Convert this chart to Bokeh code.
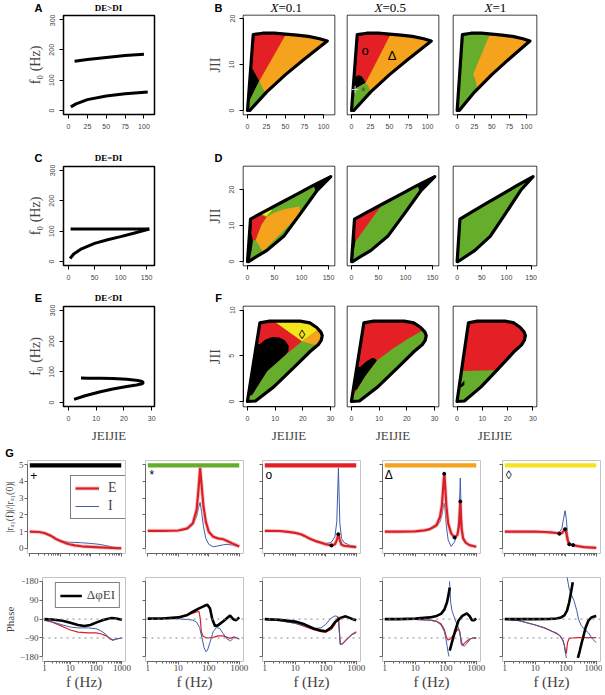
from bokeh.plotting import figure
from bokeh.models import Range1d, FixedTicker, Legend, LegendItem, PrintfTickFormatter, Span
from bokeh.layouts import column, row
from bokeh.embed import file_html
from bokeh.resources import INLINE
from bokeh.core.properties import value

SERIF = "Liberation Serif"
SANS = "Liberation Sans"
RED = "#e41f26"
ORANGE = "#f5a21d"
GREEN = "#66ad2b"
YELLOW = "#f4e41c"
BLACK = "#000000"
LINE_RED = "#d92027"
GLOW_RED = "#f29a9a"
LINE_BLUE = "#3f5ea8"

# ---------------- data: panels A, C, E ----------------
A_LOW_X = [3, 10, 25, 50, 75, 105]
A_LOW_Y = [12, 22, 36, 48, 55, 61]
A_HIGH_X = [8, 25, 50, 75, 100]
A_HIGH_Y = [162, 168, 175, 181, 185]
C_LOW_X = [3, 10, 25, 50, 75, 100, 125, 155]
C_LOW_Y = [10, 25, 42, 60, 72, 82, 93, 107]
C_HIGH_X = [4, 155]
C_HIGH_Y = [107, 107]
E_CURVE_X = [2, 6, 11.5, 16, 21, 24.5, 26.5, 27, 26.5, 25, 21, 16, 11.5, 7, 4.5]
E_CURVE_Y = [10, 22, 35, 44, 52, 57, 61, 65, 69, 72, 76, 78, 79, 79.5, 80]

# ---------------- data: region outlines ----------------
B_OUT_X = [0, 7.5, 20, 35, 50, 65, 80, 95, 105, 75, 50, 25, 3]
B_OUT_Y = [0, 16.5, 16.8, 16.8, 16.6, 16.4, 16.1, 15.6, 15.1, 11.2, 7.8, 4.0, 0]
D_OUT_X = [0, 5.6, 30, 60, 90, 120, 154, 129, 98, 67, 36, 15, 2]
D_OUT_Y = [0, 11.8, 13.8, 16.2, 18.6, 21.0, 23.6, 19.8, 13.3, 7.0, 3.1, 1.2, 0]
F_OUT_X = [0, 4.5, 8, 14, 19, 22.5, 25, 26.5, 27, 26.6, 25.5, 22.7, 16.7, 9.5, 2.9]
F_OUT_Y = [0, 8.6, 8.8, 8.8, 8.8, 8.6, 8.1, 7.6, 7.2, 6.7, 6.2, 5.5, 3.7, 1.6, 0.05]

# B row regions (X = 0.1, 0.5, 1)
B1_RED_X = [-3, 59, 15.5, 6, -3]
B1_RED_Y = [19, 19, 6.4, 9.3, 9.3]
B1_BLACK_X = [-3, 6, 15.5, 3, -3]
B1_BLACK_Y = [9.3, 9.3, 6.4, 2.2, 1.5]
B1_GREEN_X = [-3, -3, 3, 15.5, 27, 22]
B1_GREEN_Y = [-0.7, 1.5, 2.2, 6.4, 2.5, -0.7]
B2_RED_X = [-3, 59, 18.5, 16.5, 13, 9, 4, -3]
B2_RED_Y = [19, 19, 6.0, 6.8, 7.5, 7.7, 7.3, 6.5]
B2_BLACK_X = [-3, -3, 4, 9, 13, 16.5, 18.5, 10, 4]
B2_BLACK_Y = [4.2, 6.5, 7.3, 7.7, 7.5, 6.8, 6.0, 5.2, 4.6]
B2_GREEN_X = [-3, -3, 4, 10, 18.5, 21.5, 24, 26, 22]
B2_GREEN_Y = [-0.7, 4.2, 4.6, 5.2, 6.0, 5.5, 4.6, 3.5, -0.7]
B3_GREEN_X = [-3, 54, 23, 26, 28, 29, 27, -3]
B3_GREEN_Y = [19, 19, 7.9, 6.8, 5.5, 4.0, -0.7, -0.7]

# D row regions
D1_ORANGE_X = [15, 28, 98, 96, 70, 50, 35, 26, 20]
D1_ORANGE_Y = [6, 2.8, 13.3, 15.3, 14.6, 13.6, 12.3, 10.3, 8]
D1_RED_X = [6, 20, 35, 26, 20, 15, 10, 7]
D1_RED_Y = [12.5, 13.3, 12.3, 10.3, 8, 6, 5.8, 8]
D1_YELLOW_X = [24, 46, 44, 35, 26]
D1_YELLOW_Y = [13.6, 14.8, 14.0, 12.6, 13.2]
D1_BLACK_X = [-3, -3, 8, 7, 10, 8, 5, 4]
D1_BLACK_Y = [-0.9, 14, 14, 8, 5.8, 3.5, 1, -0.9]
D1_TOP_X = [5, 5, 34, 34, 18]
D1_TOP_Y = [12, 14, 16, 14.3, 13.3]
D_TIP_X = [118, 159, 159, 126]
D_TIP_Y = [23, 26, 20, 19.5]
D2_RED_X = [3, 62, 58, 7, 3]
D2_RED_Y = [14, 17.5, 16.1, 5.5, 6]
D2_BLACK_X = [-3, -3, 6, 6.5, 7, 4, 2]
D2_BLACK_Y = [-0.9, 14, 14, 9, 5.5, 2.5, -0.9]

# F row regions
F1_RED_X = [-1, 9.5, 9.5, 19.7, 13.7, 7.1, 1.7, -1]
F1_RED_Y = [10, 10, 8.8, 6.6, 5.1, 3.3, 0.7, 0.7]
F1_YELLOW_X = [9.5, 30, 30, 25.7, 19.7, 9.5]
F1_YELLOW_Y = [10, 10, 8.3, 7.9, 6.6, 8.8]
F1_ORANGE_X = [19.7, 25.7, 30, 30, 24]
F1_ORANGE_Y = [6.6, 7.9, 8.3, 6.3, 6.2]
F1_BLACK_X = [-1, 1.7, 7.1, 13.7, 14.8, 14.9, 13.5, 11.5, 9, 6.5, 4.5, -1]
F1_BLACK_Y = [0.5, 0.7, 3.3, 5.1, 5.5, 6.1, 6.7, 7.0, 7.05, 6.8, 6.3, 6]
F2_GREEN_X = [0, 0, 2, 5, 9.2, 15, 20, 26.4, 30, 30]
F2_GREEN_Y = [-0.4, 0.3, 1.3, 2.8, 4.5, 5.8, 6.8, 7.9, 8.5, -0.4]
F2_BLACK_X = [-1, 2, 5, 9.2, 8.5, 7.4, 5.5, 3.2, -1]
F2_BLACK_Y = [1, 1.3, 2.8, 4.5, 4.7, 4.75, 4.4, 3.8, 3.5]
F3_GREEN_X = [-1, -1, 17, 30]
F3_GREEN_Y = [-0.4, 3.3, 3.45, -0.4]
F3_BLACK_X = [1.2, 2.9, 2.9, 1.4]
F3_BLACK_Y = [1.75, 2.3, 1.8, 1.5]

# ---------------- data: panel G amplitude ----------------
G1_F = [1, 2, 3, 5, 7, 10, 15, 20, 30, 50, 100, 200, 500, 1000]
G1_E = [1.0, 0.98, 0.92, 0.75, 0.58, 0.45, 0.32, 0.25, 0.18, 0.13, 0.10, 0.07, 0.03, 0.01]
G1_I = [1.0, 0.98, 0.92, 0.75, 0.60, 0.48, 0.40, 0.37, 0.36, 0.34, 0.30, 0.24, 0.10, 0.02]
G2_F = [1, 3, 10, 20, 30, 40, 46, 52, 58, 67, 80, 100, 140, 200, 300, 400, 600, 1000]
G2_E = [1.05, 1.05, 1.07, 1.2, 1.5, 2.3, 3.5, 4.8, 3.8, 2.5, 1.6, 1.0, 0.7, 0.6, 0.55, 0.45, 0.3, 0.12]
G2_I = [1.05, 1.05, 1.06, 1.15, 1.4, 1.9, 2.4, 2.75, 2.2, 1.3, 0.6, 0.25, 0.1, 0.15, 0.22, 0.25, 0.2, 0.1]
G3_F = [1, 3, 5, 10, 15, 20, 30, 50, 100, 150, 200, 230, 260, 290, 330, 400, 600, 1000]
G3_E = [1.05, 1.04, 1.0, 0.93, 0.85, 0.75, 0.58, 0.42, 0.25, 0.18, 0.25, 0.5, 0.85, 0.5, 0.22, 0.16, 0.12, 0.08]
G3_I = [1.05, 1.04, 1.0, 0.93, 0.85, 0.76, 0.6, 0.45, 0.3, 0.35, 0.7, 1.6, 4.8, 1.5, 0.6, 0.35, 0.2, 0.12]
G4_F = [1, 3, 10, 20, 30, 50, 65, 75, 85, 90, 95, 105, 120, 150, 195, 240, 270, 290, 300, 310, 330, 370, 450, 600, 1000]
G4_E = [1.0, 1.0, 1.02, 1.08, 1.15, 1.4, 1.9, 2.6, 4.0, 4.45, 3.8, 2.5, 1.5, 0.9, 0.65, 0.8, 1.3, 2.2, 2.8, 2.2, 1.2, 0.6, 0.35, 0.2, 0.1]
G4_I = [1.0, 1.0, 1.02, 1.07, 1.12, 1.3, 1.6, 2.0, 2.6, 2.7, 2.3, 1.3, 0.5, 0.12, 0.4, 0.9, 1.8, 3.3, 4.2, 3.2, 1.6, 0.7, 0.35, 0.2, 0.1]
G5_F = [1, 3, 10, 20, 30, 50, 62, 75, 85, 95, 105, 115, 130, 175, 250, 400, 1000]
G5_E = [1.0, 1.0, 1.0, 0.98, 0.96, 0.92, 0.88, 0.92, 1.05, 1.15, 0.9, 0.5, 0.25, 0.2, 0.14, 0.08, 0.04]
G5_I = [1.0, 1.0, 1.0, 0.98, 0.97, 0.95, 0.98, 1.2, 1.8, 2.25, 1.7, 0.8, 0.3, 0.2, 0.14, 0.08, 0.04]
G3_DOT_F = [155, 257]
G3_DOT_A = [0.18, 0.85]
G4_DOT_F = [89, 195, 300]
G4_DOT_A = [4.45, 0.65, 2.8]
G5_DOT_F = [62, 95, 130, 175]
G5_DOT_A = [0.88, 1.15, 0.25, 0.2]

# ---------------- data: panel G phase ----------------
P1_FE = [1, 2, 5, 10, 20, 50, 100, 150, 250, 350, 450, 600, 1000]
P1_E = [-5, -15, -35, -52, -62, -66, -66, -70, -80, -95, -100, -95, -90]
P1_FI = [1, 2, 5, 10, 20, 50, 100, 150, 200, 300, 450, 600, 1000]
P1_I = [-5, -13, -28, -38, -42, -42, -46, -55, -65, -85, -100, -95, -90]
P1_FD = [1, 2, 5, 10, 20, 35, 60, 100, 200, 400, 600, 1000]
P1_D = [0, -2, -8, -18, -28, -33, -28, -17, -3, 5, 3, -3]

P2_FE = [1, 3, 10, 20, 30, 40, 48, 53, 57, 65, 80, 100, 150, 200, 300, 500, 700, 1000]
P2_E = [2, 3, 8, 18, 28, 34, 36, 0, -60, -82, -88, -90, -86, -80, -80, -92, -85, -95]
P2_FI = [1, 3, 10, 20, 30, 40, 50, 60, 70, 80, 90, 110, 140, 180, 230, 300, 400, 520, 650, 800, 1000]
P2_I = [2, 2, 1, -2, -5, -15, -40, -90, -135, -155, -150, -110, -60, -40, -45, -70, -95, -104, -90, -88, -95]
P2_FD = [1, 3, 10, 20, 30, 50, 70, 90, 110, 130, 160, 200, 300, 500, 650, 800, 1000]
P2_D = [2, 3, 8, 20, 35, 52, 62, 68, 50, 0, -33, -30, -10, 17, -2, -5, 8]

P3_FE = [1, 3, 10, 20, 40, 70, 100, 150, 200, 240, 260, 280, 300, 350, 500, 700, 1000]
P3_E = [-2, -8, -20, -35, -50, -60, -62, -50, -25, 5, 10, -60, -120, -118, -95, -75, -60]
P3_FI = [1, 3, 10, 20, 40, 70, 100, 150, 200, 240, 260, 280, 300, 350, 500, 700, 1000]
P3_I = [-2, -8, -20, -33, -45, -42, -25, 5, 15, 13, 5, -60, -120, -118, -95, -75, -65]
P3_FD = [1, 3, 10, 20, 40, 70, 100, 150, 200, 300, 450, 700, 1000]
P3_D = [0, -3, -12, -25, -45, -55, -58, -40, -15, 5, 13, 2, -6]

P4_FE = [1, 3, 10, 30, 50, 70, 90, 100, 110, 120, 140, 170, 220, 260, 290, 320, 350, 450, 600, 800, 1000]
P4_E = [0, 0, -2, -5, -10, -22, -50, -75, -92, -100, -95, -80, -60, -45, -60, -115, -125, -110, -95, -90, -92]
P4_FI_A = [1, 3, 10, 30, 50, 70, 90, 100, 110, 120, 128]
P4_I_A = [0, 0, -2, -5, -12, -28, -60, -90, -125, -160, -178]
P4_FI_B = [133, 145, 160, 200, 260, 300, 350, 400, 500, 650, 800, 1000]
P4_I_B = [180, 80, 40, 0, -40, -80, -120, -130, -115, -95, -88, -88]
P4_FD_A = [1, 3, 10, 30, 50, 70, 90, 110, 125, 135]
P4_D_A = [0, 0, 2, 8, 15, 25, 45, 80, 120, 150]
P4_FD_B = [135, 160, 200, 260, 350, 490, 600, 720, 850, 1000]
P4_D_B = [-150, -110, -60, -8, 15, 27, 15, -5, -5, 3]

P5_FE = [1, 3, 10, 20, 35, 50, 65, 80, 90, 100, 105, 115, 130, 160, 250, 400, 600, 1000]
P5_E = [0, -8, -28, -42, -58, -68, -80, -100, -125, -165, -160, -110, -92, -90, -88, -88, -88, -88]
P5_FI_A = [1, 3, 10, 20, 35, 50, 65, 80, 90, 100, 105]
P5_I_A = [0, -8, -28, -42, -58, -68, -80, -100, -125, -170, -185]
P5_FI_B = [110, 130, 160, 190, 230, 262, 320, 420, 560, 750, 1000]
P5_I_B = [200, 143, 110, 84, 40, 0, -30, -50, -66, -95, -112]
P5_FD_A = [1, 3, 10, 30, 50, 70, 90, 110, 130, 150, 170]
P5_D_A = [0, 0, 0, 1, 3, 8, 18, 40, 80, 130, 175]
P5_FD_B = [250, 290, 330, 380, 450, 560, 700, 850, 1000]
P5_D_B = [-185, -150, -115, -81, -40, -6, 8, 12, 14]

AMP_TICKS = [0, 1, 2, 3, 4, 5]
PHASE_TICKS = [-180, -90, 0, 90, 180]
BAR_F = [1, 1000]
BAR_Y = [4.82, 5.08]
BAR_COLORS = [BLACK, GREEN, RED, ORANGE, YELLOW]
SYMBOLS = ["+", "*", "o", "Δ", "◊"]

PAGE_W = 601


def make_fig(w, h, bl, br, bt, bb, xr, yr, xlog=False):
    kw = dict(width=w, height=h, min_border_left=bl, min_border_right=br,
              min_border_top=bt, min_border_bottom=bb,
              x_range=Range1d(*xr), y_range=Range1d(*yr),
              output_backend="svg", toolbar_location=None)
    if xlog:
        kw["x_axis_type"] = "log"
    p = figure(**kw)
    p.grid.visible = False
    p.background_fill_color = "white"
    p.border_fill_color = "white"
    return p


def strip(h, items):
    """A text-only strip above a row; its data units are pixels."""
    p = figure(width=PAGE_W, height=h, x_range=Range1d(0, PAGE_W), y_range=Range1d(h, 0),
               x_axis_location=None, y_axis_location=None, min_border=0,
               output_backend="svg", toolbar_location=None)
    p.outline_line_color = None
    p.grid.visible = False
    for x, y, text, font, size, style, align in items:
        p.text(x=[x], y=[y], text=[text], text_font=value(font), text_font_size=value(size),
               text_font_style=style, text_align=align, text_baseline="middle", text_color="black")
    return p


def hide_labels(ax):
    ax.major_label_text_font_size = "0px"
    ax.major_label_text_color = None


def r_style(p, xt, yt, yvis=True, ylabel=None, xlabel=None):
    p.outline_line_color = "black"
    p.outline_line_width = 1.5
    xa, ya = p.xaxis[0], p.yaxis[0]
    xa.ticker = FixedTicker(ticks=xt)
    xa.bounds = (xt[0], xt[-1])
    ya.ticker = FixedTicker(ticks=yt)
    ya.bounds = (yt[0], yt[-1])
    for ax in (xa, ya):
        ax.minor_tick_line_color = None
        ax.major_tick_out = 4
        ax.major_tick_in = 0
        ax.major_label_text_font = SANS
        ax.major_label_text_font_size = "7px"
        ax.major_label_standoff = 5
        ax.axis_label_text_font = SERIF
        ax.axis_label_text_font_style = "normal"
        ax.axis_label_text_font_size = "14px"
        ax.axis_label_standoff = 4
    xa.axis_label_text_font_size = "13px"
    ya.major_label_orientation = "vertical"
    ya.visible = yvis
    if ylabel:
        ya.axis_label = ylabel
    if xlabel:
        xa.axis_label = xlabel


def region_panel(p, ox, oy, base, regions, xr, yr):
    p.patch(ox, oy, fill_color=base, line_color=None)
    for col, rx, ry in regions:
        p.patch(rx, ry, fill_color=col, line_color=None)
    x0, x1 = xr
    y0, y1 = yr
    dx, dy = x1 - x0, y1 - y0
    outer_x = [x0 - dx, x0 - dx, x1 + dx, x1 + dx]
    outer_y = [y0 - dy, y1 + dy, y1 + dy, y0 - dy]
    p.multi_polygons(xs=[[[outer_x, list(ox)[::-1]]]], ys=[[[outer_y, list(oy)[::-1]]]],
                     fill_color="white", line_color=None)
    p.patch(ox, oy, fill_color=None, line_color="black", line_width=3.2, line_join="round")


def mark(p, x, y, t, size="12px", color="black", font=SANS):
    p.text(x=[x], y=[y], text=[t], text_font=value(font), text_font_size=value(size),
           text_align="center", text_baseline="middle", text_color=color)


# ---------------- layout geometry (pixels) ----------------
ROWS = [(136, 1, 36), (126, 2, 25), (141, 2, 39)]
COLS = [(196, 63, 42), (144, 47, 6), (106, 7, 8), (155, 7, 65)]
A_XR, A_YR = (-6.7, 114), (-13, 313)
C_XR = (-9.6, 165)
E_XR = (-1.8, 31)
B_XR, B_YR = (-5.3, 114.5), (-0.87, 20.65)
D_XR, D_YR = (-7.4, 161), (-1.1, 26.4)
F_XR, F_YR = (-1.4, 31.4), (-0.55, 10.4)

strip1 = strip(14, [
    (38, 7, "A", SANS, "11px", "bold", "center"),
    (108, 7, "DE>DI", SERIF, "9px", "bold", "center"),
    (218, 7, "B", SANS, "11px", "bold", "center"),
    (278, 7, "X", SERIF, "13px", "italic", "right"),
    (278, 7, "=0.1", SERIF, "13px", "normal", "left"),
    (382, 7, "X", SERIF, "13px", "italic", "right"),
    (382, 7, "=0.5", SERIF, "13px", "normal", "left"),
    (492, 7, "X", SERIF, "13px", "italic", "right"),
    (492, 7, "=1", SERIF, "13px", "normal", "left"),
])
strip2 = strip(14, [
    (38, 7, "C", SANS, "11px", "bold", "center"),
    (108, 7, "DE=DI", SERIF, "9px", "bold", "center"),
    (218, 7, "D", SANS, "11px", "bold", "center"),
])
strip3 = strip(14, [
    (38, 7, "E", SANS, "11px", "bold", "center"),
    (108, 7, "DE<DI", SERIF, "9px", "bold", "center"),
    (218, 7, "F", SANS, "11px", "bold", "center"),
])
strip4 = strip(14, [
    (9, 7, "G", SANS, "11px", "bold", "center"),
])

# ---- row 1 ----
h, t, b = ROWS[0]
pA = make_fig(COLS[0][0], h, COLS[0][1], COLS[0][2], t, b, A_XR, A_YR)
r_style(pA, [0, 25, 50, 75, 100], [0, 100, 200, 300], ylabel="f₀ (Hz)")
pA.line(A_LOW_X, A_LOW_Y, line_width=3, color="black")
pA.line(A_HIGH_X, A_HIGH_Y, line_width=3, color="black")

B_REG = [
    (ORANGE, [(RED, B1_RED_X, B1_RED_Y), (BLACK, B1_BLACK_X, B1_BLACK_Y), (GREEN, B1_GREEN_X, B1_GREEN_Y)]),
    (ORANGE, [(RED, B2_RED_X, B2_RED_Y), (BLACK, B2_BLACK_X, B2_BLACK_Y), (GREEN, B2_GREEN_X, B2_GREEN_Y)]),
    (ORANGE, [(GREEN, B3_GREEN_X, B3_GREEN_Y)]),
]
row1 = [pA]
for k in range(3):
    w, bl, br = COLS[k + 1]
    p = make_fig(w, h, bl, br, t, b, B_XR, B_YR)
    r_style(p, [0, 25, 50, 75, 100], [0, 10, 20], yvis=(k == 0), ylabel="JII" if k == 0 else None)
    base, regs = B_REG[k]
    region_panel(p, B_OUT_X, B_OUT_Y, base, regs, B_XR, B_YR)
    if k == 1:
        mark(p, 17.8, 13, "o", "13px")
        mark(p, 53.5, 12, "Δ", "13px")
        mark(p, 4.7, 4.7, "+", "14px", color="#cfcfcf")
        mark(p, 15.6, 4.1, "*", "12px", color="#4a4a4a")
    row1.append(p)

# ---- row 2 ----
h, t, b = ROWS[1]
pC = make_fig(COLS[0][0], h, COLS[0][1], COLS[0][2], t, b, C_XR, A_YR)
r_style(pC, [0, 50, 100, 150], [0, 100, 200, 300], ylabel="f₀ (Hz)")
pC.line(C_LOW_X, C_LOW_Y, line_width=3, color="black")
pC.line(C_HIGH_X, C_HIGH_Y, line_width=3, color="black")

D_REG = [
    (GREEN, [(ORANGE, D1_ORANGE_X, D1_ORANGE_Y), (RED, D1_RED_X, D1_RED_Y), (YELLOW, D1_YELLOW_X, D1_YELLOW_Y),
             (BLACK, D1_BLACK_X, D1_BLACK_Y), (BLACK, D1_TOP_X, D1_TOP_Y), (BLACK, D_TIP_X, D_TIP_Y)]),
    (GREEN, [(RED, D2_RED_X, D2_RED_Y), (BLACK, D2_BLACK_X, D2_BLACK_Y), (BLACK, D_TIP_X, D_TIP_Y)]),
    (GREEN, []),
]
row2 = [pC]
for k in range(3):
    w, bl, br = COLS[k + 1]
    p = make_fig(w, h, bl, br, t, b, D_XR, D_YR)
    r_style(p, [0, 50, 100, 150], [0, 10, 20], yvis=(k == 0), ylabel="JII" if k == 0 else None)
    base, regs = D_REG[k]
    region_panel(p, D_OUT_X, D_OUT_Y, base, regs, D_XR, D_YR)
    row2.append(p)

# ---- row 3 ----
h, t, b = ROWS[2]
pE = make_fig(COLS[0][0], h, COLS[0][1], COLS[0][2], t, b, E_XR, A_YR)
r_style(pE, [0, 10, 20, 30], [0, 100, 200, 300], ylabel="f₀ (Hz)", xlabel="JEIJIE")
pE.line(E_CURVE_X, E_CURVE_Y, line_width=3, color="black")

F_REG = [
    (GREEN, [(RED, F1_RED_X, F1_RED_Y), (YELLOW, F1_YELLOW_X, F1_YELLOW_Y), (ORANGE, F1_ORANGE_X, F1_ORANGE_Y),
             (BLACK, F1_BLACK_X, F1_BLACK_Y)]),
    (RED, [(GREEN, F2_GREEN_X, F2_GREEN_Y), (BLACK, F2_BLACK_X, F2_BLACK_Y)]),
    (RED, [(GREEN, F3_GREEN_X, F3_GREEN_Y), (BLACK, F3_BLACK_X, F3_BLACK_Y)]),
]
row3 = [pE]
for k in range(3):
    w, bl, br = COLS[k + 1]
    p = make_fig(w, h, bl, br, t, b, F_XR, F_YR)
    r_style(p, [0, 10, 20, 30], [0, 5, 10], yvis=(k == 0), ylabel="JII" if k == 0 else None, xlabel="JEIJIE")
    base, regs = F_REG[k]
    region_panel(p, F_OUT_X, F_OUT_Y, base, regs, F_XR, F_YR)
    if k == 0:
        mark(p, 19.7, 7.3, "◊", "13px")
    row3.append(p)

# ---------------- panel G ----------------
G_COLS = [(135, 27, 10), (118, 10, 10), (118, 9, 11), (120, 11, 11), (111, 11, 2)]
G_XR = (0.84, 1380)
AMP = [(G1_F, G1_E, G1_I), (G2_F, G2_E, G2_I), (G3_F, G3_E, G3_I), (G4_F, G4_E, G4_I), (G5_F, G5_E, G5_I)]
AMP_DOTS = {2: (G3_DOT_F, G3_DOT_A), 3: (G4_DOT_F, G4_DOT_A), 4: (G5_DOT_F, G5_DOT_A)}
PHASE = [
    ([(P1_FE, P1_E)], [(P1_FI, P1_I)], [(P1_FD, P1_D)]),
    ([(P2_FE, P2_E)], [(P2_FI, P2_I)], [(P2_FD, P2_D)]),
    ([(P3_FE, P3_E)], [(P3_FI, P3_I)], [(P3_FD, P3_D)]),
    ([(P4_FE, P4_E)], [(P4_FI_A, P4_I_A), (P4_FI_B, P4_I_B)], [(P4_FD_A, P4_D_A), (P4_FD_B, P4_D_B)]),
    ([(P5_FE, P5_E)], [(P5_FI_A, P5_I_A), (P5_FI_B, P5_I_B)], [(P5_FD_A, P5_D_A), (P5_FD_B, P5_D_B)]),
]
G_TOP = (105, 1, 11)
G_BOT = (128, 13, 28)


def g_style(p, top, first):
    p.outline_line_color = "#c4c4c4"
    p.outline_line_width = 1
    xa, ya = p.xaxis[0], p.yaxis[0]
    xa.formatter = PrintfTickFormatter(format="%d")
    xa.bounds = (1, 1000)
    for ax in (xa, ya):
        ax.axis_line_color = "#666666"
        ax.major_tick_line_color = "#666666"
        ax.minor_tick_line_color = "#666666"
        ax.major_tick_out = 3
        ax.major_tick_in = 0
        ax.minor_tick_out = 2
        ax.minor_tick_in = 0
        ax.major_label_text_font = SERIF
        ax.major_label_text_font_size = "9px"
        ax.major_label_standoff = 1
        ax.axis_label_text_font = SERIF
        ax.axis_label_text_font_style = "normal"
        ax.axis_label_standoff = 1
    ya.minor_tick_line_color = None
    if top:
        ya.ticker = FixedTicker(ticks=AMP_TICKS)
        ya.bounds = (0, 5)
        hide_labels(xa)
        if first:
            ya.axis_label = "|rₐ₁(f)|/|rₐ₁(0)|"
            ya.axis_label_text_font_size = "10px"
    else:
        ya.ticker = FixedTicker(ticks=PHASE_TICKS)
        ya.bounds = (-180, 180)
        ya.major_label_overrides = {180: "-180"}
        xa.axis_label = "f (Hz)"
        xa.axis_label_text_font_size = "15px"
        xa.major_label_standoff = 0
        xa.axis_label_standoff = 0
        if first:
            ya.axis_label = "Phase"
            ya.axis_label_text_font_size = "11px"
    if not first:
        hide_labels(ya)


def legend_style(leg, gw, standoff, fsize, lh):
    leg.border_line_color = "black"
    leg.border_line_width = 1.5
    leg.background_fill_alpha = 1
    leg.padding = 4
    leg.spacing = 2
    leg.glyph_width = gw
    leg.glyph_height = lh
    leg.label_height = lh
    leg.label_standoff = standoff
    leg.label_text_font = SERIF
    leg.label_text_font_size = fsize


row4, row5 = [], []
for k in range(5):
    w, bl, br = G_COLS[k]
    h, t, b = G_TOP
    p = make_fig(w, h, bl, br, t, b, G_XR, (-0.3, 5.24), xlog=True)
    g_style(p, True, k == 0)
    f, e, i = AMP[k]
    p.quad(left=[BAR_F[0]], right=[BAR_F[1]], bottom=[BAR_Y[0]], top=[BAR_Y[1]],
           fill_color=BAR_COLORS[k], line_color=None)
    ri = p.line(f, i, line_width=1, color=LINE_BLUE)
    rg = p.line(f, e, line_width=4, color=GLOW_RED, line_alpha=0.55)
    rc = p.line(f, e, line_width=2.2, color=LINE_RED)
    if k in AMP_DOTS:
        df, da = AMP_DOTS[k]
        p.scatter(df, da, size=3, color="black")
    mark(p, 1.35, 4.35, SYMBOLS[k], "12px", font=SANS)
    if k == 0:
        leg = Legend(items=[LegendItem(label="E", renderers=[rg, rc]), LegendItem(label="I", renderers=[ri])],
                     location=(43, 34))
        legend_style(leg, 24, 9, "14px", 12)
        leg.margin = 0
        p.add_layout(leg)
    row4.append(p)

    h, t, b = G_BOT
    q = make_fig(w, h, bl, br, t, b, G_XR, (-202, 198), xlog=True)
    g_style(q, False, k == 0)
    for loc in (0, -90):
        q.add_layout(Span(location=loc, dimension="width", line_color="#8a8a8a", line_dash="dotted", line_width=1))
    reds, blues, blacks = PHASE[k]
    for fx, vy in reds:
        q.line(fx, vy, line_width=1.2, color=LINE_RED)
    for fx, vy in blues:
        q.line(fx, vy, line_width=1, color=LINE_BLUE)
    rb = None
    for fx, vy in blacks:
        r_ = q.line(fx, vy, line_width=2.6, color="black")
        rb = rb or r_
    if k == 0:
        leg = Legend(items=[LegendItem(label="ΔφEI", renderers=[rb])], location="top_right")
        legend_style(leg, 22, 5, "13px", 13)
        leg.margin = 5
        q.add_layout(leg)
    row5.append(q)

layout = column(strip1, row(*row1), strip2, row(*row2), strip3, row(*row3), strip4, row(*row4), row(*row5))
open("out.html", "w").write(file_html(layout, INLINE))
